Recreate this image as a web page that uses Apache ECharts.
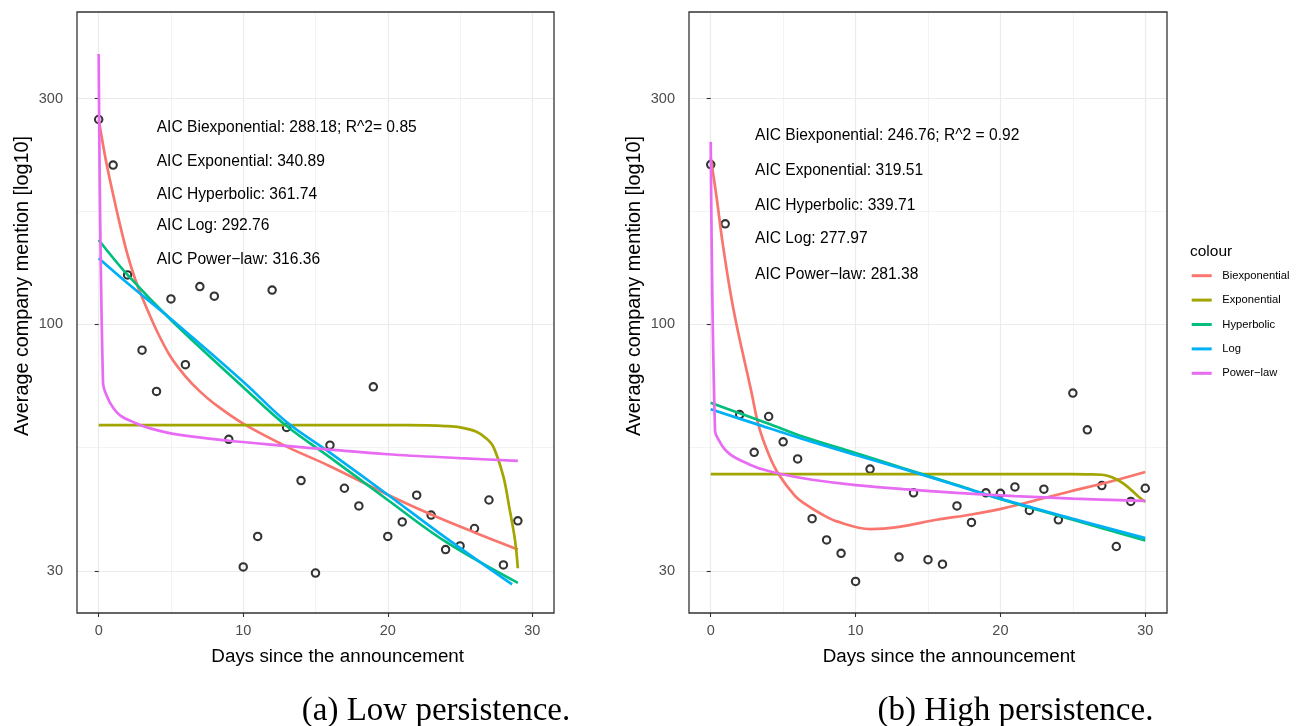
<!DOCTYPE html>
<html>
<head>
<meta charset="utf-8">
<title>Decay of company mentions after announcement</title>
<script src="https://cdn.jsdelivr.net/npm/echarts@6/dist/echarts.min.js"></script>
<style>
  html, body { margin: 0; padding: 0; background: #ffffff; }
  #chart { width: 1309px; height: 726px; }
</style>
</head>
<body>
<div id="chart"></div>
<script>
// ---------- observed averages: low persistence ----------
const daysLow = [0, 1, 2, 3, 4, 5, 6, 7, 8, 9, 10, 11, 12, 13, 14, 15, 16, 17, 18, 19, 20, 21, 22, 23, 24, 25, 26, 27, 28, 29];
const mentionLow = [271, 217, 127, 88, 72, 113, 82, 120, 114.5, 57, 30.6, 35.5, 118, 60.4, 46.6, 29.7, 55.4, 44.9, 41.2, 73.6, 35.5, 38.1, 43.4, 39.4, 33.3, 33.9, 36.9, 42.4, 30.9, 38.3];

// fitted curves: low persistence
const biexpLowX = [0, 0.5, 1, 1.5, 2, 2.5, 3, 4, 5, 6, 7, 8, 10, 13, 16, 20, 23, 26, 29];
const biexpLowY = [271, 222, 188, 161, 140, 125, 114, 97, 85, 77.5, 72, 67.8, 61.5, 55, 50, 43.5, 39.5, 36.2, 33.3];
const expLowX = [0, 10, 20, 22.7, 24, 25, 26.1, 26.8, 27.3, 28, 28.4, 28.8, 29];
const expLowY = [61.1, 61.1, 61.1, 61.0, 60.8, 60.4, 59.2, 57.3, 55.0, 47.5, 41.0, 34.9, 30.4];
const hypLowX = [0, 2, 5, 10, 13, 16, 20, 24, 29];
const hypLowY = [150.6, 127, 102, 73.5, 60.8, 52.2, 42.4, 34.6, 28.3];
const logLowX = [0, 2, 5, 10, 13, 16, 20, 24, 28.6];
const logLowY = [137.8, 122, 102.5, 75.5, 62, 53.4, 43.5, 35.3, 28.1];
const powLowX = [0, 0.3, 0.6, 1, 1.5, 2.5, 3.5, 5.5, 9, 13, 16, 20, 25, 29];
const powLowY = [373, 75, 70, 66.5, 64, 61.8, 60.2, 58.3, 56.6, 55.2, 54.2, 53, 52, 51.3];

// ---------- observed averages: high persistence ----------
const daysHigh = [0, 1, 2, 3, 4, 5, 6, 7, 8, 9, 10, 11, 13, 14, 15, 16, 17, 18, 19, 20, 21, 22, 23, 24, 25, 26, 27, 28, 29, 30];
const mentionHigh = [217.5, 163, 64.3, 53.5, 63.7, 56.3, 51.8, 38.7, 34.9, 32.7, 28.5, 49.3, 32.1, 43.9, 31.7, 31.0, 41.2, 38.0, 43.9, 43.8, 45.2, 40.3, 44.7, 38.5, 71.4, 59.7, 45.5, 33.8, 42.1, 44.9];

// fitted curves: high persistence
const biexpHighX = [0, 0.4, 0.8, 1.35, 1.8, 2.35, 2.8, 3.3, 4, 4.7, 5.8, 6.4, 7.7, 8.7, 11, 13, 15.6, 18, 20.2, 22.5, 24.8, 27.5, 30];
const biexpHighY = [225, 186, 150, 117, 99, 83, 72, 61, 53, 48, 43.3, 41.8, 39.5, 38.2, 36.8, 37.2, 38.5, 39.5, 40.7, 42.4, 44.2, 46.3, 48.6];
const expHighX = [0, 10, 20, 25, 26, 27, 27.5, 28, 28.5, 29, 29.5, 30];
const expHighY = [48.1, 48.1, 48.1, 48.1, 48.05, 47.95, 47.6, 46.9, 45.9, 44.6, 43.2, 42.0];
const hypHighX = [0, 2, 4, 6.4, 10, 13.3, 17, 20.2, 25, 30];
const hypHighY = [68.1, 64.7, 61.5, 57.7, 53.3, 49.5, 45.6, 42.4, 38.5, 34.8];
const logHighX = [0, 3, 6.4, 10, 13.3, 17, 20.2, 25, 30];
const logHighY = [66.0, 61.6, 57.0, 52.8, 49.3, 45.5, 42.5, 38.7, 35.2];
const powHighX = [0, 0.3, 0.6, 0.9, 1.3, 1.8, 2.5, 3.5, 5, 7, 10, 13.3, 17, 21, 25, 30];
const powHighY = [243, 59.2, 56.5, 54.6, 53.1, 51.9, 50.7, 49.3, 48, 46.8, 45.6, 44.7, 43.9, 43.2, 42.7, 42.2];

// ---------- labels ----------
const modelNames = ['Biexponential', 'Exponential', 'Hyperbolic', 'Log', 'Power\u2212law'];
const aicLow = ['AIC Biexponential: 288.18; R^2= 0.85', 'AIC Exponential: 340.89', 'AIC Hyperbolic: 361.74', 'AIC Log: 292.76', 'AIC Power\u2212law: 316.36'];
const aicHigh = ['AIC Biexponential: 246.76; R^2 = 0.92', 'AIC Exponential: 319.51', 'AIC Hyperbolic: 339.71', 'AIC Log: 277.97', 'AIC Power\u2212law: 281.38'];
const xTicks = [0, 10, 20, 30];
const xMinorTicks = [5, 15, 25];
const yTicks = [30, 100, 300];
const xTitle = 'Days since the announcement';
const yTitle = 'Average company mention [log10]';
const captions = ['(a) Low persistence.', '(b) High persistence.'];

// ---------- styling ----------
const FONT = '"Liberation Sans", Arial, Helvetica, sans-serif';
const SERIF = '"Liberation Serif", "Times New Roman", serif';
const modelColors = ['#F8766D', '#A3A500', '#00BF7D', '#00B0F6', '#E76BF3'];
const GRID_MAJOR = { color: '#EBEBEB', width: 1.2 };
const GRID_MINOR = { color: '#EBEBEB', width: 0.6 };
const TICK_STYLE = { color: '#333333', width: 1.1 };

const X_RANGE = [-1.5, 31.5];
const Y_RANGE = [24.44, 457.7];
const LOG_RANGE = Y_RANGE.map(Math.log10);
// minor grid between log-scale major breaks (geometric midpoints)
const yMinorTicks = yTicks.slice(1).map((v, i) => Math.sqrt(v * yTicks[i]));

const panels = [
  {
    grid: { left: 77, top: 12, width: 477, height: 601 },
    days: daysLow, mention: mentionLow,
    fits: [[biexpLowX, biexpLowY], [expLowX, expLowY], [hypLowX, hypLowY], [logLowX, logLowY], [powLowX, powLowY]],
    aic: aicLow, aicX: 156.7, aicY: [127.7, 161.7, 194.3, 225.7, 259.3],
    xTitleX: 337.7, yTitleX: 23, captionX: 436
  },
  {
    grid: { left: 689, top: 12, width: 478, height: 601 },
    days: daysHigh, mention: mentionHigh,
    fits: [[biexpHighX, biexpHighY], [expHighX, expHighY], [hypHighX, hypHighY], [logHighX, logHighY], [powHighX, powHighY]],
    aic: aicHigh, aicX: 755, aicY: [135.7, 170.7, 205.7, 238.7, 274.7],
    xTitleX: 949, yTitleX: 634.5, captionX: 1015.5
  }
];

const zip = (xs, ys) => xs.map((x, i) => [x, ys[i]]);

const grids = [], xAxes = [], yAxes = [], series = [], graphics = [];

function addText(x, y, text, size, opts) {
  opts = opts || {};
  graphics.push({
    type: 'text', x: x, y: y, silent: true, z: 100,
    rotation: opts.rotation || 0,
    style: {
      text: text, fill: opts.color || '#000000',
      fontSize: size, fontFamily: opts.family || FONT,
      textAlign: opts.align || 'left', textVerticalAlign: 'middle'
    }
  });
}

panels.forEach((p, gi) => {
  grids.push(Object.assign({ show: true, borderWidth: 0, backgroundColor: '#ffffff' }, p.grid));
  // panel frame, kept above the grid lines
  graphics.push({
    type: 'rect', silent: true, z: 90,
    shape: { x: p.grid.left, y: p.grid.top, width: p.grid.width, height: p.grid.height },
    style: { fill: 'none', stroke: '#333333', lineWidth: 1.3 }
  });

  const xMain = xAxes.length;
  // x: major breaks with labels
  xAxes.push({
    type: 'value', gridIndex: gi, position: 'bottom', min: X_RANGE[0], max: X_RANGE[1],
    axisLine: { show: false },
    axisTick: { show: true, length: 4, customValues: xTicks, lineStyle: TICK_STYLE },
    axisLabel: { show: true, customValues: xTicks, margin: 10, color: '#4D4D4D', fontSize: 14.5, fontFamily: FONT },
    splitLine: { show: true, lineStyle: GRID_MAJOR }
  });
  // x: minor grid
  xAxes.push({
    type: 'value', gridIndex: gi, position: 'bottom', min: X_RANGE[0], max: X_RANGE[1],
    axisLine: { show: false },
    axisTick: { show: false, customValues: xMinorTicks },
    axisLabel: { show: false },
    splitLine: { show: true, lineStyle: GRID_MINOR }
  });

  const yData = yAxes.length;
  // y: log scale carrying the data
  yAxes.push({ type: 'log', logBase: 10, gridIndex: gi, position: 'left', min: Y_RANGE[0], max: Y_RANGE[1], show: false });
  // y: major breaks (log10 space) with labels
  yAxes.push({
    type: 'value', gridIndex: gi, position: 'left', min: LOG_RANGE[0], max: LOG_RANGE[1],
    axisLine: { show: false },
    axisTick: { show: true, length: 4, customValues: yTicks.map(Math.log10), lineStyle: TICK_STYLE },
    axisLabel: {
      show: true, customValues: yTicks.map(Math.log10), margin: 14,
      color: '#4D4D4D', fontSize: 14.5, fontFamily: FONT,
      formatter: v => String(Math.round(Math.pow(10, v)))
    },
    splitLine: { show: true, lineStyle: GRID_MAJOR }
  });
  // y: minor grid
  yAxes.push({
    type: 'value', gridIndex: gi, position: 'left', min: LOG_RANGE[0], max: LOG_RANGE[1],
    axisLine: { show: false },
    axisTick: { show: false, customValues: yMinorTicks.map(Math.log10) },
    axisLabel: { show: false },
    splitLine: { show: true, lineStyle: GRID_MINOR }
  });

  // observed points (open circles, under the fitted lines)
  series.push({
    type: 'scatter', xAxisIndex: xMain, yAxisIndex: yData, silent: true, z: 2,
    data: zip(p.days, p.mention),
    symbol: 'circle', symbolSize: 7.4,
    itemStyle: { color: 'rgba(0,0,0,0)', borderColor: '#000000', borderWidth: 2.1 }
  });

  // fitted model curves
  p.fits.forEach((f, mi) => {
    series.push({
      type: 'line', name: modelNames[mi], xAxisIndex: xMain, yAxisIndex: yData,
      data: zip(f[0], f[1]), showSymbol: false, symbol: 'none', smooth: 0.35,
      silent: true, z: 3 + mi,
      color: modelColors[mi],
      itemStyle: { color: modelColors[mi] },
      lineStyle: { color: modelColors[mi], width: 2.7 }
    });
  });

  // AIC annotations
  p.aic.forEach((t, i) => addText(p.aicX, p.aicY[i], t, 15.6));
  // axis titles and caption
  addText(p.xTitleX, 657, xTitle, 18.8, { align: 'center' });
  addText(p.yTitleX, 286, yTitle, 19.8, { align: 'center', rotation: Math.PI / 2 });
  addText(p.captionX, 711, captions[gi], 33, { align: 'center', family: SERIF });
});

// legend title
addText(1190, 251.7, 'colour', 15.5);

const chart = echarts.init(document.getElementById('chart'));
chart.setOption({
  animation: false,
  backgroundColor: '#ffffff',
  grid: grids,
  xAxis: xAxes,
  yAxis: yAxes,
  legend: {
    data: modelNames, orient: 'vertical', left: 1191.7, top: 269.7, padding: 0,
    itemWidth: 20, itemHeight: 3, itemGap: 12.4, icon: 'rect', selectedMode: false,
    textStyle: { fontFamily: FONT, fontSize: 11.2, color: '#000000', lineHeight: 12, padding: [0, 0, 0, 5.6] }
  },
  series: series,
  graphic: graphics
});
</script>
</body>
</html>
